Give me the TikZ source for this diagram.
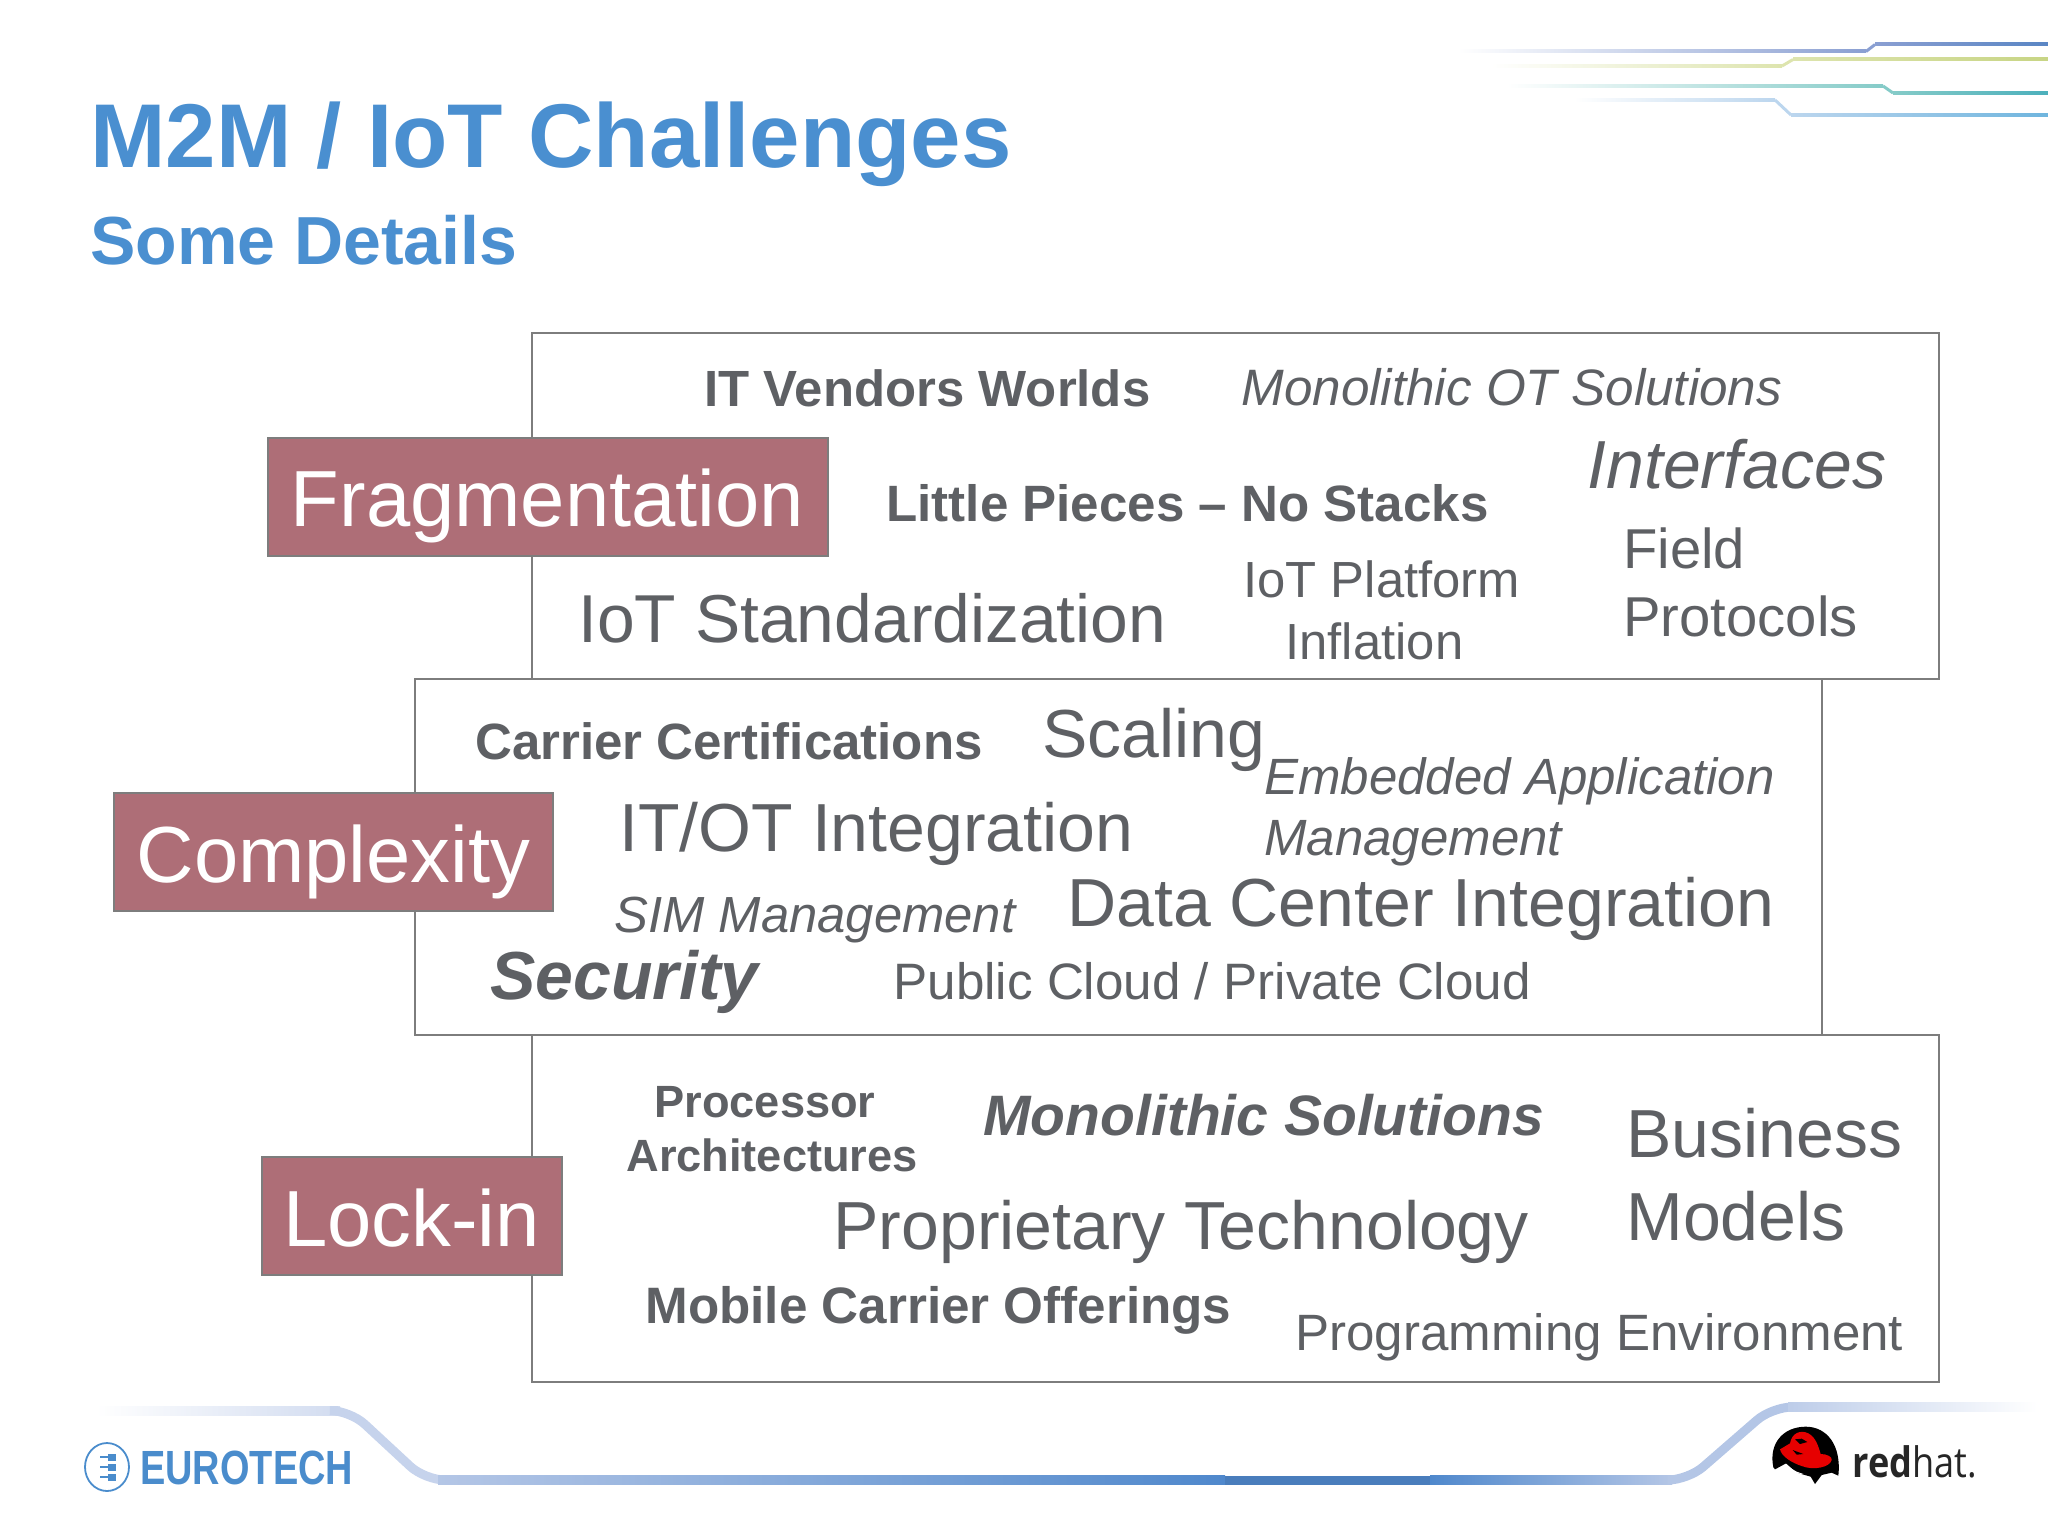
\documentclass[tikz,border=0pt]{standalone}
\usepackage{fontspec}
\setmainfont{Liberation Sans}
\newfontfamily\osfont{Open Sans}
\definecolor{titleblue}{HTML}{4A8FD0}
\definecolor{txtgrey}{HTML}{5E6064}
\definecolor{boxfill}{HTML}{AE6E77}
\definecolor{boxline}{HTML}{7D7D7D}
\definecolor{logoblue}{HTML}{4A8CCC}
\definecolor{bandpale}{HTML}{D2DCF0}
\definecolor{bandmid}{HTML}{B4C6E6}
\definecolor{banddeep}{HTML}{4F88CC}
\definecolor{hatred}{HTML}{E60000}
\definecolor{lineA}{HTML}{8A9FD2}
\definecolor{lineAb}{HTML}{5A86C4}
\definecolor{lineB}{HTML}{DDE4AE}
\definecolor{lineBb}{HTML}{C8D585}
\definecolor{lineC}{HTML}{85CBC8}
\definecolor{lineCb}{HTML}{4CB0BC}
\definecolor{lineD}{HTML}{BCD6EE}
\definecolor{lineDb}{HTML}{6FB5DE}
\newcommand{\fz}[1]{\fontsize{#1}{#1}\selectfont}
\tikzset{
 x=0.5pt,y=-0.5pt,
 lab/.style={anchor=base west,inner sep=0pt,text=txtgrey},
 ttl/.style={anchor=base west,inner sep=0pt,text=titleblue,font=\bfseries\fz{#1}},
 panel/.style={draw=boxline,line width=1pt},
 tag/.style={fill=boxfill,draw=boxline,line width=1pt,inner sep=0pt,text=white,
   font=\fz{39.8},minimum height=59pt,text height=32pt,text depth=2pt},
}
\begin{document}
\begin{tikzpicture}
\useasboundingbox (0,0) rectangle (2048,1536);
% top-right circuit lines
\shade[left color=white,right color=lineA] (1458,50) rectangle (1866,53);
\draw[line width=1.5pt,color=lineA] (1866,51.5) -- (1875,44.5);
\shade[left color=lineA,right color=lineAb] (1875,43) rectangle (2048,46);
\shade[left color=white,right color=lineB] (1491,64.5) rectangle (1782,67.5);
\draw[line width=1.5pt,color=lineB] (1782,66) -- (1793,59.5);
\shade[left color=lineB,right color=lineBb] (1793,58) rectangle (2048,61);
\shade[left color=white,right color=lineC] (1507,84.5) rectangle (1883,87.5);
\draw[line width=1.5pt,color=lineC] (1883,86) -- (1893,93);
\shade[left color=lineC,right color=lineCb] (1893,91.5) rectangle (2048,94.5);
\shade[left color=white,right color=lineD] (1574,98.5) rectangle (1775,101.5);
\draw[line width=1.5pt,color=lineD] (1775,100) -- (1791,115);
\shade[left color=lineD,right color=lineDb] (1791,113.5) rectangle (2048,116.5);
% footer band
\shade[left color=white,right color=bandpale] (96,1406) rectangle (340,1415);
\draw[line width=4.5pt,color=bandpale!60!bandmid,rounded corners=10pt] (338,1410.5) -- (350,1410.5) -- (425,1480) -- (440,1480);
\shade[left color=bandmid,right color=banddeep] (438,1475.5) rectangle (1225,1484.5);
\fill[banddeep!92!black] (1225,1475.5) rectangle (1430,1484.5);
\shade[left color=banddeep,right color=bandmid] (1430,1475.5) rectangle (1672,1484.5);
\draw[line width=4.5pt,color=bandmid,rounded corners=10pt] (1670,1480) -- (1688,1480) -- (1772,1407) -- (1790,1407);
\shade[left color=bandmid!70!bandpale,right color=white] (1788,1402.5) rectangle (2037,1411.5);
% title
\node[ttl=45.3] (title) at (90,167) {M2M / IoT Challenges};
\node[ttl=34] (subtitle) at (90,264.5) {Some Details};
% panels
\draw[panel] (532,333) rectangle (1939,679);
\draw[panel] (415,679) rectangle (1822,1035);
\draw[panel] (532,1035) rectangle (1939,1382);
% tags
\node[tag,minimum width=280pt] (frag) at (547.5,496.5) {Fragmentation};
\node[tag,minimum width=219.5pt] (cplx) at (333.5,852) {Complexity};
\node[tag,minimum width=150pt] (lock) at (411.5,1216) {Lock-in};
% panel 1
\node[lab,font=\bfseries\fz{25.45}] (t1) at (704,406.5) {IT Vendors Worlds};
\node[lab,font=\itshape\fz{25.6}] (t2) at (1241,405) {Monolithic OT Solutions};
\node[lab,font=\itshape\fz{34}] (t3) at (1587,488) {Interfaces};
\node[lab,font=\bfseries\fz{25.55}] (t4) at (886,521) {Little Pieces – No Stacks};
\node[lab,font=\fz{33.9}] (t5) at (578,642) {IoT Standardization};
\node[lab,font=\fz{25.4}] (t6) at (1243,597) {IoT Platform};
\node[lab,font=\fz{25.4}] (t7) at (1285,659) {Inflation};
\node[lab,font=\fz{28.1}] (t8) at (1623,568) {Field};
\node[lab,font=\fz{28.1}] (t9) at (1623,636) {Protocols};
% panel 2
\node[lab,font=\bfseries\fz{25.5}] (u1) at (475,759) {Carrier Certifications};
\node[lab,font=\fz{34}] (u2) at (1042,757) {Scaling};
\node[lab,font=\itshape\fz{25.5}] (u3) at (1264,794) {Embedded Application};
\node[lab,font=\itshape\fz{25.5}] (u4) at (1264,855.5) {Management};
\node[lab,font=\fz{34}] (u5) at (619,851.5) {IT/OT Integration};
\node[lab,font=\itshape\fz{25.4}] (u6) at (614,932.5) {SIM Management};
\node[lab,font=\fz{34}] (u7) at (1067,926.5) {Data Center Integration};
\node[lab,font=\bfseries\itshape\fz{34}] (u8) at (490,999) {Security};
\node[lab,font=\fz{25.6}] (u9) at (893,999.5) {Public Cloud / Private Cloud};
% panel 3
\node[lab,font=\bfseries\fz{22.6}] (v1) at (654,1117) {Processor};
\node[lab,font=\bfseries\fz{22.6}] (v2) at (626,1171.5) {Architectures};
\node[lab,font=\bfseries\itshape\fz{28.5}] (v3) at (983,1135) {Monolithic Solutions};
\node[lab,font=\fz{34}] (v4) at (1626,1157.5) {Business};
\node[lab,font=\fz{34}] (v5) at (1626,1240) {Models};
\node[lab,font=\fz{34}] (v6) at (833,1249) {Proprietary Technology};
\node[lab,font=\bfseries\fz{25.6}] (v7) at (645,1323.5) {Mobile Carrier Offerings};
\node[lab,font=\fz{25.55}] (v8) at (1295,1350.5) {Programming Environment};
% Eurotech logo
\draw[logoblue,line width=0.9pt] (107,1467) ellipse (22 and 24);
\foreach \yy in {1457,1467,1477}{
  \draw[logoblue,line width=0.8pt] (100,\yy) -- (110,\yy);
  \fill[logoblue] (108,\yy-3.5) rectangle (116,\yy+3.5);
}
\node[inner sep=0pt,anchor=base west,text=logoblue,font=\bfseries\fz{24},xscale=0.79] (euro) at (140,1484) {EUROTECH};
% Red Hat logo
\begin{scope}[shift={(1600,1380)},x=0.16667pt,y=-0.16667pt]
\fill[black] (520,262) .. controls (505,190) and (550,140) .. (617,140)
  .. controls (680,140) and (725,195) .. (715,287)
  -- (695,278) -- (665,285) -- (645,312) -- (632,290) -- (590,278) -- (558,250) -- (525,268) -- cycle;
\fill[hatred] (540,208) -- (570,190) .. controls (575,160) and (600,148) .. (625,160)
  .. controls (648,172) and (655,200) .. (662,222)
  .. controls (680,222) and (697,230) .. (695,240)
  .. controls (690,262) and (640,272) .. (605,258)
  .. controls (575,248) and (545,230) .. (540,208) -- cycle;
\fill[black] (585,178) -- (605,176) -- (622,186) -- (600,192) -- cycle;
\fill[black] (578,210) -- (610,222) -- (590,224) -- cycle;
\fill[white] (560,258) -- (590,275) -- (610,282) -- (585,280) -- (565,272) -- cycle;
\end{scope}
\node[inner sep=0pt,anchor=base west,text=black!85,font=\osfont\fz{21},xscale=0.86] (rh) at (1852,1477) {\textbf{red}hat.};
\end{tikzpicture}
\end{document}
